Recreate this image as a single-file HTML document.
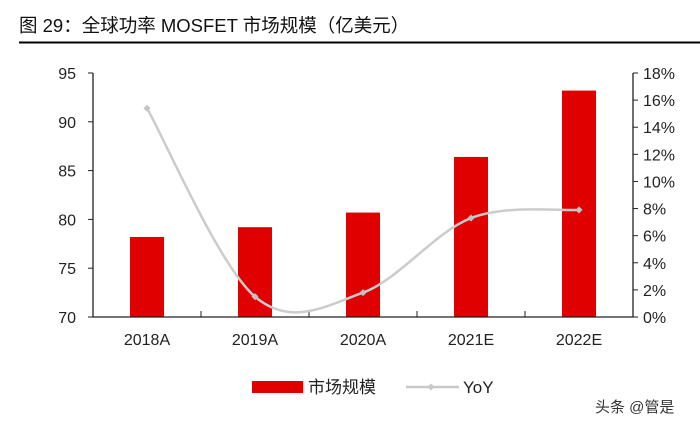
<!DOCTYPE html>
<html><head><meta charset="utf-8"><style>
body{margin:0;background:#fff;width:700px;height:426px;overflow:hidden;font-family:"Liberation Sans","Noto Sans CJK SC",sans-serif}
</style></head><body>
<svg width="700" height="426" xmlns="http://www.w3.org/2000/svg" style="font-family:'Liberation Sans','Noto Sans CJK SC',sans-serif">
<text x="19" y="32" font-size="18.5" fill="#111">图 29：全球功率 MOSFET 市场规模（亿美元）</text>
<line x1="19" y1="42.5" x2="700" y2="42.5" stroke="#000" stroke-width="2"/>
<g id="plot"></g>
<g>
<rect x="252" y="381" width="51" height="12" fill="#e00000"/>
<text x="308" y="393" font-size="17" fill="#222">市场规模</text>
<line x1="406" y1="387" x2="459" y2="387" stroke="#c8c8c8" stroke-width="2.5"/>
<rect x="428.5" y="384.5" width="5" height="5" fill="#c8c8c8" transform="rotate(45 431 387)"/>
<text x="463" y="393" font-size="17" fill="#222">YoY</text>
</g>
<text x="595" y="412" font-size="15" fill="#333">头条 @管是</text>
</svg>
<script>
const categories=["2018A","2019A","2020A","2021E","2022E"];
const marketSize=[78.2,79.2,80.7,86.4,93.2];
const yoy=[15.4,1.5,1.8,7.3,7.9];
const leftTicks=[70,75,80,85,90,95];
const rightTicks=[0,2,4,6,8,10,12,14,16,18];
const NS="http://www.w3.org/2000/svg";
const g=document.getElementById('plot');
const X0=93,X1=633,Y0=317,Y1=73;
const bw=(X1-X0)/categories.length;
const yL=v=>Y0-(v-70)/25*(Y0-Y1);
const yR=v=>Y0-v/18*(Y0-Y1);
const xC=i=>X0+bw*(i+0.5);
function mk(t,a){const e=document.createElementNS(NS,t);for(const k in a)e.setAttribute(k,a[k]);g.appendChild(e);return e;}
categories.forEach((c,i)=>{
 const r=mk('rect',{x:xC(i)-17,y:yL(marketSize[i]),width:34,height:Y0-yL(marketSize[i]),fill:'#e00000'});
 
 
 const t=mk('text',{x:xC(i),y:345,'font-size':16,fill:'#222','text-anchor':'middle'});
 t.textContent=c;
 
 
});
const ax=mk('path',{d:`M${X0} ${Y1}V${Y0}H${X1}V${Y1}`,fill:'none',stroke:'#222','stroke-width':1.3});


for(let i=0;i<=categories.length;i++){
 const tk=mk('line',{x1:X0+bw*i,x2:X0+bw*i,y1:Y0,y2:Y0-6,stroke:'#222','stroke-width':1});
 
 
}
leftTicks.forEach(v=>{
 const y=yL(v);
 const l=mk('line',{x1:X0-5,x2:X0,y1:y,y2:y,stroke:'#222'});
 
 
 const t=mk('text',{x:X0-17,y:y+6,'font-size':16,fill:'#222','text-anchor':'end'});
 t.textContent=v;
 
 
});
rightTicks.forEach(v=>{
 const y=yR(v);
 const l=mk('line',{x1:X1,x2:X1+5,y1:y,y2:y,stroke:'#222'});
 
 
 const t=mk('text',{x:X1+10,y:y+6,'font-size':16,fill:'#222'});
 t.textContent=v+'%';
 
 
});
const pts=yoy.map((v,i)=>[xC(i),yR(v)]);
let d=`M${pts[0][0]} ${pts[0][1]}`;
for(let i=0;i<pts.length-1;i++){
 const p0=pts[i-1]||pts[i],p1=pts[i],p2=pts[i+1],p3=pts[i+2]||p2;
 const c1=[p1[0]+(p2[0]-p0[0])/6,p1[1]+(p2[1]-p0[1])/6];
 const c2=[p2[0]-(p3[0]-p1[0])/6,p2[1]-(p3[1]-p1[1])/6];
 d+=`C${c1[0]} ${c1[1]} ${c2[0]} ${c2[1]} ${p2[0]} ${p2[1]}`;
}
const ln=mk('path',{d:d,fill:'none',stroke:'#cccccc','stroke-width':2.5});


pts.forEach((p,i)=>{
 const m=mk('rect',{x:p[0]-2.5,y:p[1]-2.5,width:5,height:5,fill:'#c4c4c4',transform:`rotate(45 ${p[0]} ${p[1]})`});
 
 
});
</script>
</body></html>
